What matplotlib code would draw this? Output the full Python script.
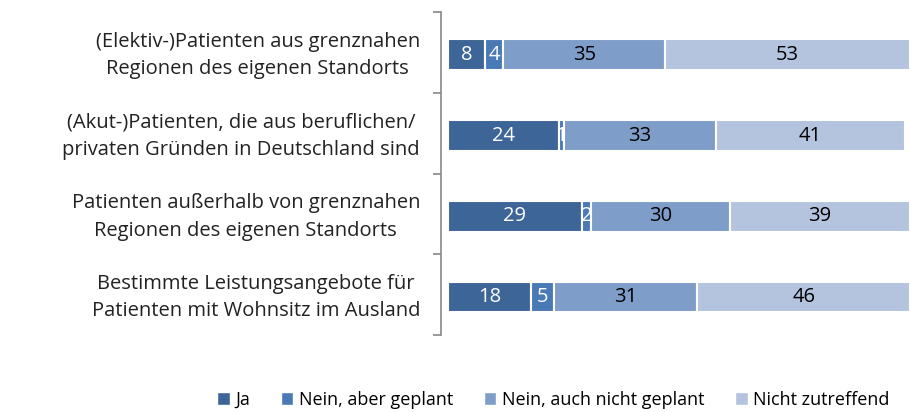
import numpy as np
import matplotlib.pyplot as plt
from matplotlib.patches import Patch

categories = [
    "(Elektiv-)Patienten aus grenznahen\nRegionen des eigenen Standorts",
    "(Akut-)Patienten, die aus beruflichen/\nprivaten Gründen in Deutschland sind",
    "Patienten außerhalb von grenznahen\nRegionen des eigenen Standorts",
    "Bestimmte Leistungsangebote für\nPatienten mit Wohnsitz im Ausland",
]
series = ["Ja", "Nein, aber geplant", "Nein, auch nicht geplant", "Nicht zutreffend"]
ja = [8, 24, 29, 18]
geplant = [4, 1, 2, 5]
nicht_geplant = [35, 33, 30, 31]
nicht_zutreffend = [53, 41, 39, 46]

colors = ["#3d6597", "#4a7ab6", "#7e9dc9", "#b4c4de"]
text_colors = ["white", "white", "black", "black"]

plt.rcParams['font.family'] = ['Open Sans', 'DejaVu Sans']

fig = plt.figure(figsize=(9.10, 4.12), dpi=100)
ax = fig.add_axes([448 / 910, 1 - 335 / 412, (910 - 448) / 910, (335 - 12) / 412])

y = np.arange(len(categories))
left = np.zeros(len(categories))
for vals, c, tc in zip([ja, geplant, nicht_geplant, nicht_zutreffend], colors, text_colors):
    vals = np.array(vals, dtype=float)
    ax.barh(y + 0.03, vals, left=left, height=0.38, color=c, edgecolor="white", linewidth=1.5, zorder=3)
    for yi, l, v in zip(y, left, vals):
        ax.text(l + v / 2, yi + 0.03, f"{int(v)}", ha="center", va="center", color=tc, fontsize=14.5, zorder=4)
    left += vals

# category labels: right-aligned block, lines centred within it
for yi, cat in zip(y, categories):
    ax.annotate(cat, xy=(0, yi), xycoords=("axes fraction", "data"),
                xytext=(-28, -3), textcoords="offset pixels",
                ha="right", va="center", multialignment="center",
                linespacing=1.5, fontsize=14.5, color="#222222")

ax.set_xlim(0, 100)
ax.set_ylim(len(categories) - 0.5, -0.5)
ax.set_xticks([])
ax.set_yticks([])
ax.set_yticks(np.arange(len(categories) + 1) - 0.5, minor=True)
ax.tick_params(axis="y", which="minor", length=6, color="#888888", width=1.2, labelleft=False)
for s in ["top", "right", "bottom"]:
    ax.spines[s].set_visible(False)
ax.spines["left"].set_position(("outward", 5))
ax.spines["left"].set_color("#888888")
ax.spines["left"].set_linewidth(1.2)

handles = [Patch(facecolor=c, edgecolor="white", label=s) for c, s in zip(colors, series)]
fig.legend(handles=handles, loc="center", bbox_to_anchor=(0.608, 1 - 400 / 412), ncol=4,
           frameon=False, fontsize=13, handlelength=0.7, handleheight=0.7,
           handletextpad=0.3, columnspacing=1.7)

fig.savefig("out.png", dpi=100)
